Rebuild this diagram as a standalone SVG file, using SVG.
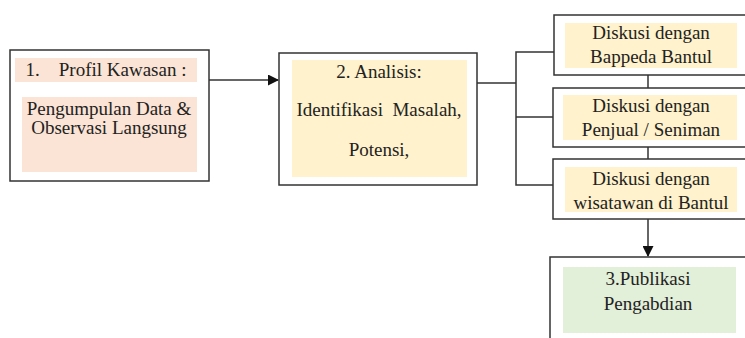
<svg xmlns="http://www.w3.org/2000/svg" width="745" height="338" viewBox="0 0 745 338">
<style>
.box{fill:#fff;stroke:#333;stroke-width:1.5}
.pink{fill:#fbe4d5}
.yel{fill:#fff2cc}
.grn{fill:#e2efd9}
.t{font-family:"Liberation Serif","Times New Roman",serif;font-size:19px;fill:#222;text-anchor:middle}
.c{fill:none;stroke:#333;stroke-width:1.5}
</style>
<defs>
<marker id="ah" markerWidth="11" markerHeight="11" refX="10" refY="5.5" orient="auto" markerUnits="userSpaceOnUse">
<path d="M0,0 L11,5.5 L0,11 Z" fill="#111"/>
</marker>
</defs>
<g id="connectors">
<line class="c" x1="209" y1="80" x2="278" y2="80" marker-end="url(#ah)"/>
<polyline class="c" points="477,83 516,83"/>
<polyline class="c" points="554,52 516,52 516,185 554,185"/>
<line class="c" x1="516" y1="117" x2="554" y2="117"/>
<line class="c" x1="648" y1="75" x2="648" y2="88"/>
<line class="c" x1="648" y1="147" x2="648" y2="159"/>
<line class="c" x1="648" y1="219" x2="648" y2="256" marker-end="url(#ah)"/>
</g>
<g id="node1">
<rect class="box" x="10" y="50" width="199" height="131"/>
<rect class="pink" x="15" y="58" width="182" height="24"/>
<rect class="pink" x="22" y="97" width="175" height="75"/>
<text class="t" x="106" y="76" xml:space="preserve">1.    Profil Kawasan :</text>
<text class="t" x="109" y="115">Pengumpulan Data &amp;</text>
<text class="t" x="109" y="134">Observasi Langsung</text>
</g>
<g id="node2">
<rect class="box" x="279" y="53" width="198" height="132"/>
<rect class="yel" x="292" y="60" width="175" height="117"/>
<text class="t" x="379" y="78">2. Analisis:</text>
<text class="t" x="379" y="116" xml:space="preserve">Identifikasi  Masalah,</text>
<text class="t" x="379" y="156">Potensi,</text>
</g>
<g id="node3a">
<rect class="box" x="554" y="15" width="200" height="60"/>
<rect class="yel" x="565" y="23" width="172" height="45"/>
<text class="t" x="651" y="39">Diskusi dengan</text>
<text class="t" x="651" y="63">Bappeda Bantul</text>
</g>
<g id="node3b">
<rect class="box" x="553" y="88" width="200" height="59"/>
<rect class="yel" x="563" y="95" width="174" height="45"/>
<text class="t" x="651" y="112">Diskusi dengan</text>
<text class="t" x="651" y="136">Penjual / Seniman</text>
</g>
<g id="node3c">
<rect class="box" x="553" y="159" width="200" height="60"/>
<rect class="yel" x="565" y="167" width="172" height="45"/>
<text class="t" x="651" y="185">Diskusi dengan</text>
<text class="t" x="651" y="209">wisatawan di Bantul</text>
</g>
<g id="node4">
<rect class="box" x="550" y="257" width="205" height="100"/>
<rect class="grn" x="563" y="267" width="173" height="66"/>
<text class="t" x="648" y="285">3.Publikasi</text>
<text class="t" x="648" y="310">Pengabdian</text>
</g>
</svg>
